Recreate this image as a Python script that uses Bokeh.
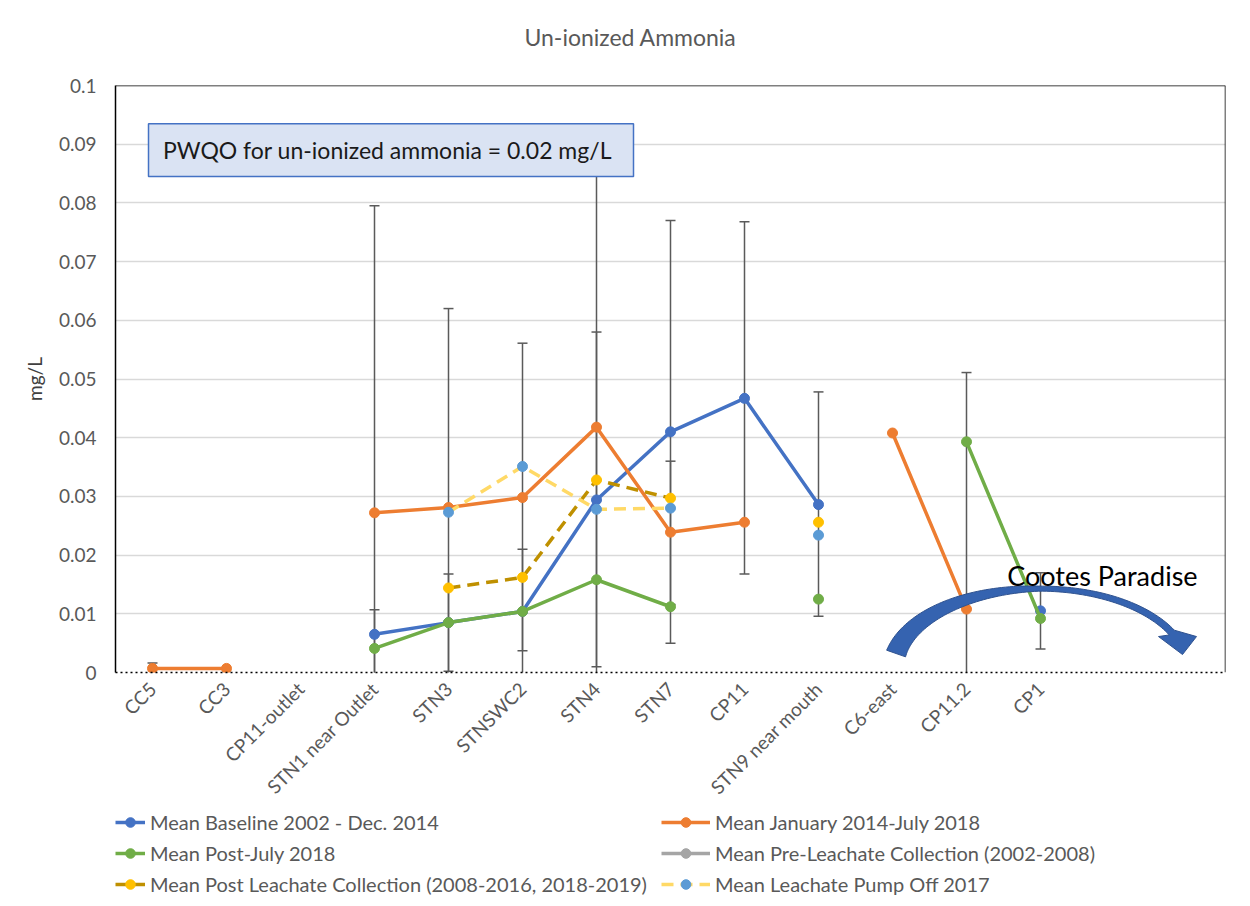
import numpy as np
from math import pi
from bokeh.plotting import figure
from bokeh.layouts import column
from bokeh.models import (Range1d, FixedTicker, NumeralTickFormatter, Span, Label,
                          Legend, LegendItem)
from bokeh.embed import file_html
from bokeh.resources import INLINE

nan = float("nan")

categories = ["CC5", "CC3", "CP11-outlet", "STN1 near Outlet", "STN3", "STNSWC2",
              "STN4", "STN7", "CP11", "STN9 near mouth", "C6-east", "CP11.2", "CP1"]
x_idx = list(range(len(categories)))

baseline = [nan, nan, nan, 0.0065, 0.0085, 0.0104, 0.0294, 0.0410, 0.0467, 0.0286, nan, nan, 0.0105]
jan2014 = [0.0007, 0.0007, nan, 0.0272, 0.0281, 0.0298, 0.0418, 0.0239, 0.0256, nan, 0.0408, 0.0108, nan]
post2018 = [nan, nan, nan, 0.0041, 0.0085, 0.0104, 0.0158, 0.0112, nan, 0.0125, nan, 0.0393, 0.0092]
pre_leach = [nan] * 13
post_leach = [nan, nan, nan, nan, 0.0144, 0.0162, 0.0328, 0.0297, nan, 0.0256, nan, nan, nan]
pump_off = [nan, nan, nan, nan, 0.0273, 0.0351, 0.0278, 0.0280, nan, 0.0234, nan, nan, nan]

# error bars (category index, lower, upper)
err_cat = [0, 3, 3, 4, 4, 5, 5, 6, 6, 7, 7, 8, 9, 11, 12]
err_low = [-0.0002, -0.025, -0.0023, -0.006, 0.0002, 0.0037, -0.0002, -0.008, 0.001,
           0.005, 0.0116, 0.0168, 0.0096, -0.0295, 0.004]
err_high = [0.0016, 0.0795, 0.0107, 0.062, 0.0168, 0.0561, 0.021, 0.090, 0.058,
            0.077, 0.036, 0.0768, 0.0478, 0.0511, 0.017]

y_ticks = [0, 0.01, 0.02, 0.03, 0.04, 0.05, 0.06, 0.07, 0.08, 0.09, 0.1]

series_names = ["Mean Baseline 2002 - Dec. 2014", "Mean January 2014-July 2018",
                "Mean Post-July 2018", "Mean Pre-Leachate Collection (2002-2008)",
                "Mean Post Leachate Collection (2008-2016, 2018-2019)",
                "Mean Leachate Pump Off 2017"]
series_values = [baseline, jan2014, post2018, pre_leach, post_leach, pump_off]
line_colors = ["#4472C4", "#ED7D31", "#70AD47", "#A5A5A5", "#BF9000", "#FFD966"]
marker_colors = ["#4472C4", "#ED7D31", "#70AD47", "#A5A5A5", "#FFC000", "#5B9BD5"]
line_dashes = ["solid", "solid", "solid", "solid", "12 7", "12 7"]

FONT = "Lato"
GRAY_TXT = "#595959"
W = 1234
FL, FR = 115, 1225   # frame left / right in page pixels (frames are aligned in the column)
BOTTOM = 138

# ---------------- title strip ----------------
tf = figure(width=W, height=73, output_backend="svg", toolbar_location=None,
            x_range=Range1d(FL, FR), y_range=Range1d(0, 73), x_axis_type=None, y_axis_type=None,
            min_border=0, min_border_left=FL, min_border_right=W - FR, min_border_top=0,
            min_border_bottom=0)
tf.outline_line_color = None
tf.grid.grid_line_color = None
tf.add_layout(Label(x=630, y=37, text="Un-ionized Ammonia", text_font=FONT,
                    text_font_size="23px", text_color=GRAY_TXT, text_align="center",
                    text_baseline="middle"))

# ---------------- main chart ----------------
p = figure(width=W, height=12 + 587 + BOTTOM, output_backend="svg", toolbar_location=None,
           x_range=Range1d(-0.5, 14.5), y_range=Range1d(0, 0.1),
           min_border_left=FL, min_border_right=W - FR, min_border_top=12,
           min_border_bottom=BOTTOM)
p.outline_line_color = None
p.xgrid.grid_line_color = None
p.ygrid.grid_line_color = "#D9D9D9"
p.ygrid.grid_line_width = 1.3

p.yaxis.ticker = FixedTicker(ticks=y_ticks)
p.yaxis.formatter = NumeralTickFormatter(format="0.[00]")
p.yaxis.major_tick_line_color = None
p.yaxis.minor_tick_line_color = None
p.yaxis.major_tick_out = 0
p.yaxis.major_tick_in = 0
p.yaxis.minor_tick_out = 0
p.yaxis.axis_line_color = "black"
p.yaxis.axis_line_width = 1.5
p.yaxis.major_label_standoff = 19
p.yaxis.major_label_text_font = FONT
p.yaxis.major_label_text_font_size = "19px"
p.yaxis.major_label_text_color = GRAY_TXT
p.yaxis.axis_label = "mg/L"
p.yaxis.axis_label_text_font = FONT
p.yaxis.axis_label_text_font_size = "19px"
p.yaxis.axis_label_text_font_style = "normal"
p.yaxis.axis_label_text_color = "#404040"
p.yaxis.axis_label_standoff = 10

p.xaxis.ticker = FixedTicker(ticks=x_idx)
p.xaxis.major_label_overrides = {i: c for i, c in enumerate(categories)}
p.xaxis.major_label_orientation = pi / 4
p.xaxis.major_tick_line_color = None
p.xaxis.minor_tick_line_color = None
p.xaxis.major_tick_out = 0
p.xaxis.major_tick_in = 0
p.xaxis.minor_tick_out = 0
p.xaxis.axis_line_color = "black"
p.xaxis.axis_line_width = 1.5
p.xaxis.axis_line_dash = "2 3"
p.xaxis.major_label_standoff = 13
p.xaxis.major_label_text_font = FONT
p.xaxis.major_label_text_font_size = "19px"
p.xaxis.major_label_text_color = GRAY_TXT

# top & right frame border
p.add_layout(Span(location=0.1, dimension="width", line_color="black", line_width=1.5))
p.add_layout(Span(location=14.5, dimension="height", line_color="black", line_width=1.5))

# error bars
EC = "#5A5A5A"
p.segment(x0=err_cat, y0=err_low, x1=err_cat, y1=err_high, line_color=EC, line_width=1.5)
p.scatter(x=err_cat, y=err_high, marker="dash", size=10, line_color=EC, line_width=1.5)
p.scatter(x=err_cat, y=err_low, marker="dash", size=10, line_color=EC, line_width=1.5)

for ys, lc, mc, dash in zip(series_values, line_colors, marker_colors, line_dashes):
    p.line(x=x_idx, y=ys, line_color=lc, line_width=3.5, line_dash=dash)
    p.scatter(x=x_idx, y=ys, size=10, fill_color=mc, line_color=mc)

# PWQO box
p.quad(left=[-0.054], right=[6.5], bottom=[0.0845], top=[0.0935],
       fill_color="#DAE3F3", line_color="#4472C4", line_width=1.5)
p.add_layout(Label(x=0.142, y=0.0890, text="PWQO for un-ionized ammonia = 0.02 mg/L",
                   text_font=FONT, text_font_size="23px", text_color="#1a1a1a",
                   text_align="left", text_baseline="middle"))


# curved arrow (decoration), defined in reference pixel space then mapped to data
def d_x(px):
    return (np.asarray(px, dtype=float) - 152.0) / 74.0


def d_y(py):
    return (672.0 - np.asarray(py, dtype=float)) / 5880.0


cx, cy, a, b = 1040.0, 668.0, 147.0, 80.0
th0 = pi - np.arcsin(15 / 80)
th1 = np.arcsin(36 / 80)
th = np.linspace(th0, th1, 90)
w = np.interp(th, [th1, pi / 2, th0], [7, 5, 20])
px = cx + a * np.cos(th)
py = cy - b * np.sin(th)
nx = np.cos(th) / a
ny = -np.sin(th) / b
nn = np.hypot(nx, ny)
nx, ny = nx / nn, ny / nn
ox, oy = px + nx * w / 2, py + ny * w / 2
ix, iy = px - nx * w / 2, py - ny * w / 2
head_x = [1196, 1182, 1158]
head_y = [636, 654, 636]
poly_x = list(ox) + head_x + list(ix[::-1])
poly_y = list(oy) + head_y + list(iy[::-1])
p.patch(x=d_x(poly_x), y=d_y(poly_y), fill_color="#3563B0", line_color="#2F528F", line_width=1)

p.add_layout(Label(x=11.55, y=0.0165, text="Cootes Paradise", text_font=FONT,
                   text_font_size="27px", text_color="black", text_align="left",
                   text_baseline="alphabetic"))

# ---------------- legend strip ----------------
LH = 86
lf = figure(width=W, height=LH, output_backend="svg", toolbar_location=None,
            x_range=Range1d(0, 1), y_range=Range1d(0, 1), x_axis_type=None, y_axis_type=None,
            min_border=0, min_border_left=FL, min_border_right=W - FR, min_border_top=0,
            min_border_bottom=0)
lf.outline_line_color = None
lf.grid.grid_line_color = None
items = []
for name, lc, mc, dash in zip(series_names, line_colors, marker_colors, line_dashes):
    r1 = lf.line(x=[nan], y=[nan], line_color=lc, line_width=3.5, line_dash=dash)
    r2 = lf.scatter(x=[nan], y=[nan], size=10, fill_color=mc, line_color=mc)
    items.append(LegendItem(label=name, renderers=[r1, r2]))

leg_kw = dict(glyph_height=24, label_height=24, label_standoff=5, spacing=7,
              padding=0, margin=0, border_line_color=None, background_fill_alpha=0,
              label_text_font=FONT, label_text_font_size="20px", label_text_color=GRAY_TXT)
lf.add_layout(Legend(items=[items[0], items[2], items[4]], location=(0, 0),
                     glyph_width=30, **leg_kw), "center")
lf.add_layout(Legend(items=[items[1], items[3], items[5]], location=(661 - FL, 0),
                     glyph_width=49, **leg_kw), "center")

layout = column(tf, p, lf, spacing=0)
open("out.html", "w").write(file_html(layout, INLINE))
